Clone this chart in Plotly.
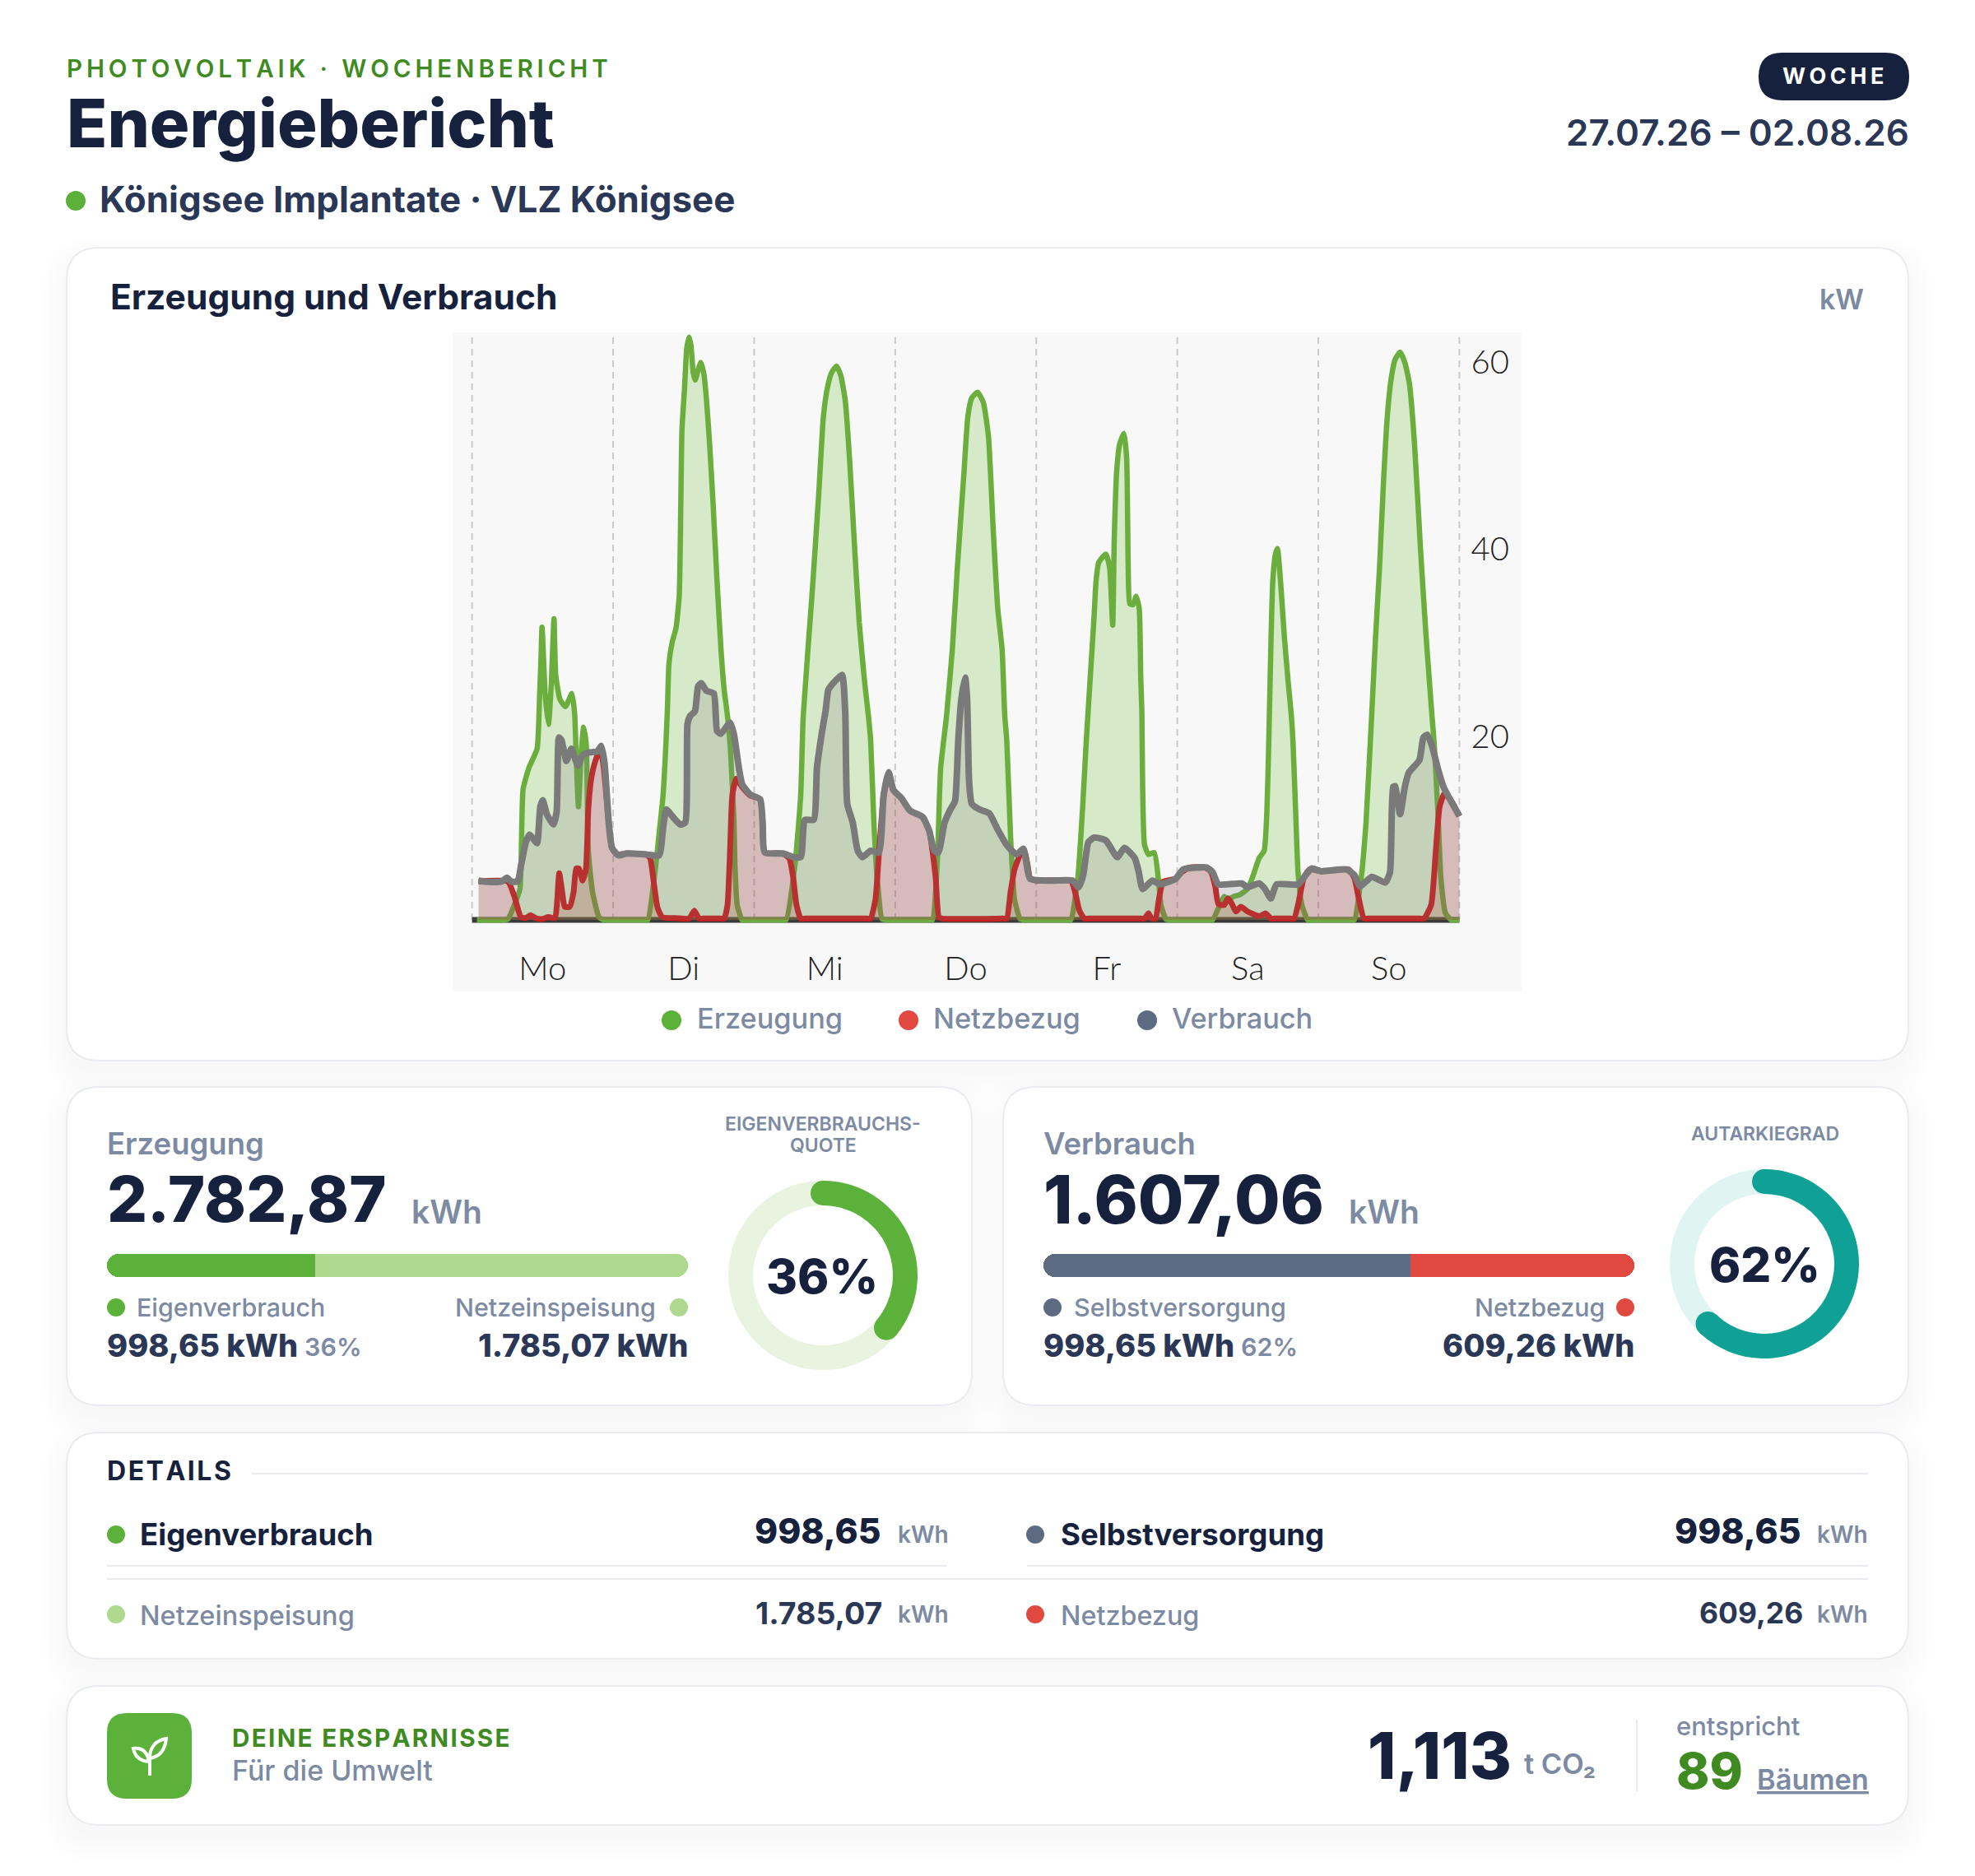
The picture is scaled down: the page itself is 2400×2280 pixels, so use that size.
import math
import plotly.graph_objects as go

# the page body keeps its default 8px margin, so the figure is that much smaller
PAGE_MARGIN = 8
W = 2400 - PAGE_MARGIN
H = 2280 - PAGE_MARGIN

NAVY = "#16213E"
SLATE = "#2A3756"
GREY = "#7C8AA3"
GREEN = "#5BB13A"
DARKGREEN = "#3F8B22"
LIGHTGREEN = "#AFD98E"
RED = "#E1483F"
STEEL = "#5D6B82"
TEAL = "#0FA196"
BORDER = "#E8EBF0"

# chart data, x in days since Monday 00:00, y in kW
gen_x = [0.035, 0.22, 0.254, 0.30, 0.339, 0.353, 0.362, 0.404, 0.461, 0.478, 0.489, 0.496, 0.519, 0.542, 0.561, 0.581, 0.593,
         0.623, 0.662, 0.708, 0.727, 0.738, 0.754, 0.773, 0.791, 0.81, 0.824, 0.854, 0.90, 0.934, 0.965,
         1.215, 1.246, 1.292, 1.326, 1.354, 1.384, 1.396, 1.419, 1.446, 1.469, 1.488, 1.506, 1.522, 1.539, 1.552, 1.568, 1.582,
         1.603, 1.622, 1.642, 1.661, 1.684, 1.707, 1.737, 1.765, 1.788, 1.811, 1.834, 1.857, 1.864, 1.88, 1.915, 1.945,
         2.195, 2.226, 2.29, 2.33, 2.348, 2.41, 2.457, 2.491, 2.521, 2.549, 2.584, 2.614, 2.646, 2.676, 2.715, 2.745, 2.78,
         2.81, 2.826, 2.849, 2.872, 2.907, 2.94, 2.97,
         3.235, 3.264, 3.298, 3.322, 3.364, 3.405, 3.441, 3.488, 3.515, 3.543, 3.584, 3.625, 3.661, 3.694, 3.727, 3.758, 3.777,
         3.791, 3.818, 3.846, 3.887, 3.928, 3.96,
         4.215, 4.245, 4.295, 4.328, 4.355, 4.383, 4.41, 4.424, 4.443, 4.493, 4.52, 4.542, 4.553, 4.57, 4.592, 4.622, 4.641,
         4.652, 4.663, 4.686, 4.708, 4.73, 4.741, 4.749, 4.754, 4.768, 4.796, 4.837, 4.865, 4.884, 4.92, 4.961, 4.99,
         5.22, 5.25, 5.333, 5.36, 5.40, 5.443, 5.498, 5.539, 5.58, 5.616, 5.635, 5.649, 5.663, 5.677, 5.696, 5.71, 5.732,
         5.759, 5.787, 5.809, 5.82, 5.842, 5.856, 5.883, 5.925, 5.955,
         6.225, 6.255, 6.304, 6.338, 6.379, 6.406, 6.434, 6.461, 6.489, 6.517, 6.544, 6.58, 6.613, 6.646, 6.682, 6.723, 6.764,
         6.806, 6.82, 6.847, 6.869, 6.902, 6.943, 6.975, 7.0]
gen_y = [0, 0, 0.1, 1.6, 3.3, 10.4, 14, 16.3, 18.3, 23.6, 28, 31.3, 24, 20.9, 25, 32.2, 26.2,
         23.6, 22.8, 24.2, 22.1, 17.7, 12.1, 17.7, 20.6, 18.6, 7.4, 3, 0.3, 0, 0,
         0, 0, 4.5, 9.2, 13.3, 22.1, 27.4, 29.7, 31.2, 34.7, 52.3, 56.7, 61.1, 62.3, 61.4, 58.5, 57.7,
         58.8, 59.6, 58.5, 55.8, 50.9, 45, 36.2, 28.9, 24.5, 21.8, 17.7, 10.4, 5.7, 1.6, 0, 0,
         0, 0, 6, 13.3, 21.8, 34.7, 45.3, 53.8, 57, 58.5, 59.2, 58.2, 55.5, 49.4, 39.1, 31.8, 25.9,
         21.8, 19.2, 10.4, 4.5, 0.1, 0, 0,
         0, 0, 6, 16.2, 21.8, 28.9, 37.7, 47.9, 53.8, 55.8, 56.4, 55.3, 51.7, 42, 33.3, 28.9, 21.8,
         19.2, 8.9, 2.2, 0.1, 0, 0,
         0, 0, 4.5, 11.8, 19.2, 25.9, 32.4, 36.2, 38.2, 39.1, 37.7, 31.5, 40.6, 47.9, 50.9, 52, 49.4,
         37.7, 33.8, 33.7, 34.6, 33.3, 25.9, 22.1, 14.8, 8, 7, 7.2, 4.5, 1.6, 0.1, 0, 0,
         0, 0, 2.5, 2.2, 2.5, 2.7, 3.3, 4.8, 6.6, 7.4, 11.5, 19.2, 28.9, 36.2, 39.1, 39.7, 36.2,
         30.3, 25.3, 21.8, 19.2, 10.4, 5.1, 1.6, 0, 0,
         0, 0, 4.5, 10.4, 22.1, 30.3, 37.7, 46.5, 53.8, 57.9, 59.9, 60.7, 59.6, 57.3, 50.9, 40, 30.3,
         21.8, 19.2, 11.8, 4.5, 0.7, 0, 0, 0]

grid_x = [0.046, 0.254, 0.30, 0.346, 0.381, 0.415, 0.45, 0.496, 0.542, 0.588, 0.604, 0.618, 0.639, 0.657, 0.692, 0.72,
          0.738, 0.757, 0.784, 0.807, 0.824, 0.842, 0.87, 0.911, 0.934, 0.969, 0.992, 1.027, 1.096, 1.234, 1.262,
          1.292, 1.315, 1.349, 1.442, 1.539, 1.576, 1.608, 1.64, 1.76, 1.788, 1.811, 1.829, 1.845, 1.873, 1.915, 1.972, 2.042,
          2.06, 2.076, 2.203, 2.249, 2.277, 2.30, 2.33, 2.36, 2.80, 2.826, 2.86, 2.884, 2.918, 2.953, 2.987, 3.045, 3.103, 3.195,
          3.242, 3.264, 3.287, 3.31, 3.335, 3.765, 3.791, 3.818, 3.846, 3.887, 3.915, 3.937, 3.956, 3.997, 4.245, 4.278, 4.306,
          4.341, 4.37, 4.74, 4.768, 4.796, 4.818, 4.845, 4.873, 4.90, 4.988, 5.03, 5.085, 5.195, 5.236, 5.269, 5.291, 5.333,
          5.36, 5.388, 5.415, 5.451, 5.498, 5.58, 5.627, 5.663, 5.69, 5.80, 5.828, 5.856, 5.897, 5.938, 6.021, 6.214, 6.255,
          6.288, 6.324, 6.355, 6.72, 6.75, 6.80, 6.833, 6.86, 6.894, 6.943, 7.0]
grid_y = [4.1, 4.1, 2.5, 0.3, 0.2, 0.5, 0.2, 0.1, 0.3, 0.2, 2.2, 5, 3, 1.4, 1.4, 3,
          5.5, 5.5, 4.2, 5.4, 11.8, 14.8, 16.8, 18.3, 16.2, 10.4, 7.7, 7, 7.1, 7, 6.6,
          3.6, 1.3, 0.3, 0.2, 0.15, 1, 0.15, 0.15, 0.15, 0.15, 1.6, 7.4, 13.3, 15.1, 14.2, 13.3, 12.9,
          10.4, 7.2, 7.1, 6.6, 4.5, 1.6, 0.15, 0.15, 0.15, 0.15, 2.2, 6.9, 13.3, 15.7, 13.9, 13, 11.7, 11,
          9.5, 7.4, 4.5, 0.3, 0.15, 0.15, 0.15, 3, 5.4, 7, 7.4, 6, 4.5, 4.2, 4.2, 2.8, 1,
          0.15, 0.15, 0.15, 0.15, 0.7, 0.15, 0.15, 2.5, 4.1, 4.4, 5.1, 5.6, 5.6, 5.2, 3.6, 1.7, 1.6,
          2.3, 1.7, 0.9, 1.4, 0.9, 0.4, 0.7, 0.15, 0.15, 0.15, 0.15, 1.6, 4.5, 5.4, 5.2, 5.4, 4.5,
          2.2, 0.15, 0.15, 0.15, 0.15, 1.6, 7.4, 12.1, 13.5, 12.7, 11.1]

load_x = [0.046, 0.092, 0.208, 0.247, 0.277, 0.323, 0.346, 0.381, 0.408, 0.438, 0.461, 0.484, 0.501, 0.53, 0.577, 0.60,
          0.616, 0.634, 0.669, 0.704, 0.75, 0.784, 0.83, 0.888, 0.916, 0.939, 0.969, 0.992, 1.038, 1.096, 1.234, 1.326,
          1.354, 1.377, 1.419, 1.476, 1.511, 1.527, 1.546, 1.58, 1.603, 1.626, 1.661, 1.714, 1.737, 1.764, 1.829, 1.857,
          1.892, 1.915, 1.972, 2.042, 2.06, 2.076, 2.203, 2.284, 2.33, 2.36, 2.422, 2.445, 2.48, 2.507, 2.526, 2.56,
          2.623, 2.646, 2.66, 2.699, 2.734, 2.768, 2.826, 2.884, 2.918, 2.953, 2.987, 3.045, 3.103, 3.195, 3.242, 3.276,
          3.306, 3.35, 3.391, 3.424, 3.447, 3.469, 3.496, 3.51, 3.524, 3.543, 3.598, 3.667, 3.722, 3.791, 3.86, 3.909,
          3.928, 3.956, 4.107, 4.259, 4.30, 4.333, 4.369, 4.41, 4.493, 4.575, 4.625, 4.699, 4.727, 4.754, 4.823, 4.878,
          4.988, 5.043, 5.209, 5.25, 5.291, 5.457, 5.498, 5.58, 5.622, 5.663, 5.704, 5.856, 5.911, 5.952, 6.021, 6.2,
          6.255, 6.296, 6.379, 6.475, 6.508, 6.53, 6.544, 6.58, 6.613, 6.64, 6.717, 6.745, 6.772, 6.806, 6.847, 6.888,
          7.0]
load_y = [4.2, 4.1, 4.1, 4.5, 4.1, 4.1, 5.7, 8.3, 9.1, 8.6, 8.2, 12.1, 12.8, 11.3, 10.2, 11.6,
          19.5, 19.2, 17, 18.3, 16.5, 17.6, 17.9, 18, 18.6, 16.8, 10.4, 7.7, 6.9, 7.1, 7, 6.9,
          9.8, 11.8, 11.1, 10.2, 10.4, 20.9, 21.8, 22.3, 25, 25.3, 24.5, 24.2, 20.2, 19.9, 21.1, 19.8,
          16.2, 14.5, 13.4, 12.9, 10.4, 7.2, 7.1, 6.7, 6.7, 10.7, 10.7, 16.2, 20, 22.4, 24.6, 25.3,
          26.2, 22.1, 12.4, 10.4, 7.4, 6.7, 7.4, 7.2, 13.3, 15.8, 13.9, 13, 11.7, 11, 9.5, 7.4,
          7.2, 10.4, 11.8, 12.7, 19.2, 23.6, 25.9, 23.6, 14.8, 12.4, 11.8, 11.4, 9.8, 8, 7, 7.6,
          6.3, 4.4, 4.2, 4.2, 3.5, 4.8, 8.3, 8.8, 8.5, 6.7, 7.7, 6.6, 5.1, 3.3, 4.2, 3.8,
          4.4, 5.4, 5.6, 5.1, 3.8, 3.9, 3.5, 3.9, 3.3, 2.3, 3.8, 3.8, 4.8, 5.5, 5.2, 5.4,
          4.8, 3.6, 4.6, 4, 5.1, 14.2, 14.3, 11.3, 14.2, 15.7, 17.1, 19.5, 19.8, 18.6, 16.2, 14.2,
          11.1]

day_labels = ["Mo", "Di", "Mi", "Do", "Fr", "Sa", "So"]
day_centers = [0.5, 1.5, 2.5, 3.5, 4.5, 5.5, 6.5]
day_edges = [0, 1, 2, 3, 4, 5, 6, 7]
y_ticks = [20, 40, 60]

eigenverbrauch = 998.65
netzeinspeisung = 1785.07
selbstversorgung = 998.65
netzbezug = 609.26
eigen_quote = 36
autarkie = 62


def X(px):
    return (px - PAGE_MARGIN) / W


def Y(py):
    return 1 - (py - PAGE_MARGIN) / H


def tracked(s, gap="\u2006"):
    return gap.join(s)


def round_rect(x0, y0, x1, y1, r):
    a, b, c, d = X(x0), X(x1), Y(y0), Y(y1)
    rx, ry = r / W, r / H
    return (f"M {a+rx},{c} L {b-rx},{c} Q {b},{c} {b},{c-ry} L {b},{d+ry} Q {b},{d} {b-rx},{d} "
            f"L {a+rx},{d} Q {a},{d} {a},{d+ry} L {a},{c-ry} Q {a},{c} {a+rx},{c} Z")


shapes = []
annotations = []


def card(x0, y0, x1, y1):
    # soft shadow first, then the white card with its hairline
    for i in range(7):
        s = 30 - i * 5
        shapes.append(dict(type="path", xref="paper", yref="paper", layer="below",
                           path=round_rect(x0 - s, y0 - s + 16, x1 + s, y1 + s + 16, 40 + s),
                           fillcolor="rgba(22,33,62,0.0055)", line_width=0))
    shapes.append(dict(type="path", xref="paper", yref="paper", layer="below",
                       path=round_rect(x0, y0, x1, y1, 40), fillcolor="white",
                       line=dict(color=BORDER, width=2)))


def dot(px, py, d, color):
    shapes.append(dict(type="circle", xref="paper", yref="paper", layer="below",
                       x0=X(px - d / 2), x1=X(px + d / 2), y0=Y(py + d / 2), y1=Y(py - d / 2),
                       fillcolor=color, line_width=0))


def hline(x0, x1, py, width=2):
    shapes.append(dict(type="line", xref="paper", yref="paper", layer="below",
                       x0=X(x0), x1=X(x1), y0=Y(py), y1=Y(py), line=dict(color=BORDER, width=width)))


def label(px, py, text, size, color, weight=500, anchor="left", family="Inter", **font_extra):
    annotations.append(dict(xref="paper", yref="paper", x=X(px), y=Y(py), text=text, showarrow=False,
                            xanchor=anchor, yanchor="middle", borderpad=0, borderwidth=0,
                            font=dict(size=size, color=color, weight=weight, family=family, **font_extra)))


card(81, 301, 2319, 1289)
card(81, 1321, 1181, 1708)
card(1219, 1321, 2319, 1708)
card(81, 1741, 2319, 2016)
card(81, 2049, 2319, 2218)

# header
label(81, 83, tracked("PHOTOVOLTAIK · WOCHENBERICHT"), 29.5, DARKGREEN, 600)
label(81, 150, "Energiebericht", 81, NAVY, 800)
dot(92, 244, 24, GREEN)
label(121, 242, "Königsee Implantate · VLZ Königsee", 43.9, SLATE, 700)
shapes.append(dict(type="path", xref="paper", yref="paper", layer="below",
                   path=round_rect(2137, 64, 2320, 122, 29), fillcolor=NAVY, line_width=0))
label(2227, 92, tracked("WOCHE"), 27, "white", 700, anchor="center")
label(2320, 161, "27.07.26 – 02.08.26", 44, SLATE, 600, anchor="right")

# chart card
label(134, 361, "Erzeugung und Verbrauch", 42.5, NAVY, 700)
label(2265, 363, "kW", 34, GREY, 600, anchor="right")
shapes.append(dict(type="rect", xref="paper", yref="paper", layer="below",
                   x0=X(550), x1=X(1849), y0=Y(1205), y1=Y(404), fillcolor="#F8F8F8", line_width=0))
for d in day_edges:
    shapes.append(dict(type="line", xref="x", yref="y", layer="below", x0=d, x1=d, y0=0, y1=62.8,
                       line=dict(color="#C9C9C9", width=2, dash="8px,6px")))
shapes.append(dict(type="line", xref="x", yref="y", layer="below", x0=day_edges[0], x1=day_edges[-1], y0=0, y1=0,
                   line=dict(color="#3A3A3A", width=7)))
dot(816, 1240, 24, GREEN)
label(847, 1237, "Erzeugung", 34.3, GREY, 500)
dot(1104, 1240, 24, RED)
label(1134, 1237, "Netzbezug", 34.3, GREY, 500)
dot(1394, 1240, 24, STEEL)
label(1424, 1237, "Verbrauch", 34.3, GREY, 500)

# Erzeugung card
label(130, 1390, "Erzeugung", 36.5, GREY, 600)
label(130, 1457, "2.782,87", 77, NAVY, 800)
label(500, 1472, "kWh", 39, GREY, 600)
dot(141, 1589, 22, GREEN)
label(166, 1589, "Eigenverbrauch", 30.4, GREY, 500)
label(797, 1589, "Netzeinspeisung", 30.4, GREY, 500, anchor="right")
dot(825, 1589, 22, LIGHTGREEN)
label(130, 1635, "998,65 kWh", 38, SLATE, 800)
label(370, 1637, "36%", 30.5, GREY, 600)
label(836, 1635, "1.785,07 kWh", 38, SLATE, 800, anchor="right")
label(1000, 1366, "EIGENVERBRAUCHS-", 23, GREY, 600, anchor="center")
label(1000, 1392, "QUOTE", 23, GREY, 600, anchor="center")
label(999, 1551, "36%", 58, NAVY, 800, anchor="center")

# Verbrauch card
label(1268, 1390, "Verbrauch", 36.5, GREY, 600)
label(1268, 1457, "1.607,06", 80.5, NAVY, 800)
label(1639, 1472, "kWh", 39, GREY, 600)
dot(1279, 1589, 22, STEEL)
label(1305, 1589, "Selbstversorgung", 30.4, GREY, 500)
label(1950, 1589, "Netzbezug", 30.4, GREY, 500, anchor="right")
dot(1975, 1589, 22, RED)
label(1268, 1635, "998,65 kWh", 38, SLATE, 800)
label(1508, 1637, "62%", 30.5, GREY, 600)
label(1986, 1635, "609,26 kWh", 38, SLATE, 800, anchor="right")
label(2145, 1378, "AUTARKIEGRAD", 23, GREY, 600, anchor="center")
label(2144, 1537, "62%", 58, NAVY, 800, anchor="center")

# details card
label(130, 1787, tracked("DETAILS", "\u200a"), 32, NAVY, 700)
hline(306, 2270, 1791)
hline(130, 1151, 1903)
hline(1248, 2270, 1903)
hline(130, 2270, 1919)
dot(141, 1865, 22, GREEN)
label(170, 1865, "Eigenverbrauch", 36.6, NAVY, 700)
label(1070, 1860, "998,65", 42.6, NAVY, 800, anchor="right")
label(1153, 1865, "kWh", 28, GREY, 600, anchor="right")
dot(1258, 1865, 22, STEEL)
label(1289, 1865, "Selbstversorgung", 36.6, NAVY, 700)
label(2188, 1860, "998,65", 42.6, NAVY, 800, anchor="right")
label(2270, 1865, "kWh", 28, GREY, 600, anchor="right")
dot(141, 1962, 22, LIGHTGREEN)
label(170, 1963, "Netzeinspeisung", 32.5, GREY, 500)
label(1072, 1960, "1.785,07", 37.5, SLATE, 700, anchor="right")
label(1153, 1962, "kWh", 28, GREY, 600, anchor="right")
dot(1258, 1962, 22, RED)
label(1289, 1963, "Netzbezug", 32.3, GREY, 500)
label(2191, 1960, "609,26", 35.5, SLATE, 700, anchor="right")
label(2270, 1962, "kWh", 28, GREY, 600, anchor="right")

# savings card
shapes.append(dict(type="path", xref="paper", yref="paper", layer="below",
                   path=round_rect(130, 2082, 233, 2186, 24), fillcolor=GREEN, line_width=0))
label(282, 2112, tracked("DEINE ERSPARNISSE", "\u200a"), 29.6, DARKGREEN, 700)
label(282, 2151, "Für die Umwelt", 34, GREY, 500)
label(1662, 2133, "1,113", 78, NAVY, 800)
label(1852, 2143, "t CO₂", 34.5, GREY, 600)
shapes.append(dict(type="line", xref="paper", yref="paper", layer="below", x0=X(1989), x1=X(1989),
                   y0=Y(2090), y1=Y(2177), line=dict(color=BORDER, width=2)))
label(2037, 2097, "entspricht", 31, GREY, 500)
label(2037, 2152, "89", 61, DARKGREEN, 800)
label(2135, 2162, "Bäumen", 34.4, GREY, 600, lineposition="under")

fig = go.Figure()

# the three power curves
fig.add_trace(go.Scatter(x=gen_x, y=gen_y, name="Erzeugung", mode="lines", fill="tozeroy",
                         fillcolor="rgba(108,190,50,0.24)",
                         line=dict(color="#6CAE3E", width=6.5, shape="spline", smoothing=0.5)))
fig.add_trace(go.Scatter(x=grid_x, y=grid_y, name="Netzbezug", mode="lines", fill="tozeroy",
                         fillcolor="rgba(200,30,30,0.2)",
                         line=dict(color="#C8201F", width=7, shape="spline", smoothing=0.5)))
fig.add_trace(go.Scatter(x=load_x, y=load_y, name="Verbrauch", mode="lines", fill="tozeroy",
                         fillcolor="rgba(120,120,120,0.2)",
                         line=dict(color="#7A7A7A", width=8, shape="spline", smoothing=0.5)))


# split bar: zero of the axis sits at the split, so each part rounds only its outer end
def split_bar(xname, yname, left, right, left_color, right_color):
    fig.add_trace(go.Bar(y=[0], x=[-left], orientation="h", xaxis=xname, yaxis=yname,
                         marker=dict(color=left_color, cornerradius=14, line_width=0), width=1))
    fig.add_trace(go.Bar(y=[0], x=[right], orientation="h", xaxis=xname, yaxis=yname,
                         marker=dict(color=right_color, cornerradius=14, line_width=0), width=1))


split_bar("x2", "y2", eigenverbrauch, netzeinspeisung, GREEN, LIGHTGREEN)
split_bar("x3", "y3", selbstversorgung, netzbezug, STEEL, RED)


def ring(cx, cy, share, color, track):
    r = 115
    fig.add_trace(go.Pie(values=[share, 100 - share], hole=85 / 115, sort=False, direction="clockwise", rotation=0,
                         marker=dict(colors=[color, track], line_width=0), textinfo="none", showlegend=False,
                         domain=dict(x=[X(cx - r), X(cx + r)], y=[Y(cy + r), Y(cy - r)])))
    # round caps on both ends of the arc
    for a in (0, 2 * math.pi * share / 100):
        px = cx + 100 * math.sin(a)
        py = cy - 100 * math.cos(a)
        shapes.append(dict(type="circle", xref="paper", yref="paper", layer="above",
                           x0=X(px - 15), x1=X(px + 15), y0=Y(py + 15), y1=Y(py - 15),
                           fillcolor=color, line_width=0))


ring(1000, 1550, eigen_quote, GREEN, "#E8F4E0")
ring(2144, 1536, autarkie, TEAL, "#E0F4F1")

# sprout icon
shapes.append(dict(type="path", xref="paper", yref="paper", layer="above",
                   path=f"M {X(182)},{Y(2158)} L {X(182)},{Y(2134)} "
                        f"Q {X(184)},{Y(2116)} {X(202)},{Y(2113)} Q {X(200)},{Y(2134)} {X(182)},{Y(2137)} "
                        f"M {X(181)},{Y(2141)} Q {X(165)},{Y(2140)} {X(162)},{Y(2125)} "
                        f"Q {X(178)},{Y(2123)} {X(181)},{Y(2141)}",
                   line=dict(color="white", width=4)))

fig.update_layout(
    width=W, height=H, autosize=False, margin=dict(l=0, r=0, t=0, b=0, pad=0),
    paper_bgcolor="white", plot_bgcolor="rgba(0,0,0,0)", showlegend=False, barmode="overlay", bargap=0,
    shapes=shapes, annotations=annotations, hovermode=False,
    xaxis=dict(domain=[X(550), X(1849)], range=[-0.138, 7.441], showgrid=False, zeroline=False, showline=False,
               tickmode="array", tickvals=day_centers, ticktext=day_labels, ticks="", ticklabelposition="inside",
               ticklabelstandoff=3, tickfont=dict(family="Lato", size=40, color="#1F1F1F", weight=300)),
    yaxis=dict(domain=[Y(1205), Y(404)], range=[-7.65, 62.8], side="right", showgrid=False, zeroline=False,
               showline=False, tickmode="array", tickvals=y_ticks, ticks="", ticklabelposition="inside",
               ticklabelstandoff=12, ticklabelshift=4,
               tickfont=dict(family="Lato", size=40, color="#1F1F1F", weight=300)),
    xaxis2=dict(domain=[X(130), X(836)], range=[-eigenverbrauch, netzeinspeisung], visible=False, anchor="y2"),
    yaxis2=dict(domain=[Y(1552), Y(1524)], range=[-0.5, 0.5], visible=False, anchor="x2"),
    xaxis3=dict(domain=[X(1268), X(1986)], range=[-selbstversorgung, netzbezug], visible=False, anchor="y3"),
    yaxis3=dict(domain=[Y(1552), Y(1524)], range=[-0.5, 0.5], visible=False, anchor="x3"),
)

fig.write_html("out.html")
